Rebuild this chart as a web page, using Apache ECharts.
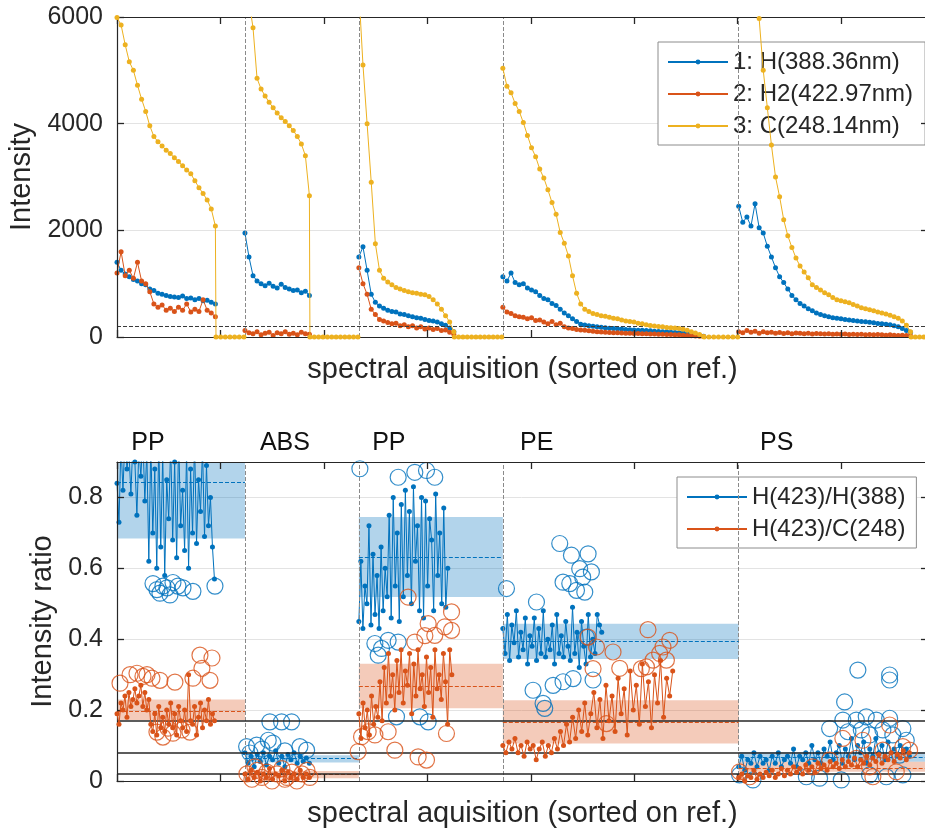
<!DOCTYPE html>
<html><head><meta charset="utf-8">
<script src="https://cdn.jsdelivr.net/npm/echarts@6/dist/echarts.min.js"></script>
<style>html,body{margin:0;padding:0;background:#fff}#c{width:925px;height:832px}</style>
</head><body><div id="c"></div><script>
// ---------- x positions (acquisition index) ----------
const topSpans  = [[0,95.1],[123.7,186.0],[233.8,325.6],[373.0,567.1],[601.0,767.1]];
const zeroSpans = [[95.7,122.7],[186.5,232.9],[326.1,372.0],[567.6,600.0],[767.6,784]];
const separators = [123.7, 233.8, 373, 601];
const noiseFloor = 200;

// ---------- top plot: intensities per segment ----------
const H388 = [
  [1400,1250,1180,1130,1080,1050,1000,980,900,870,820,800,780,760,750,740,770,720,730,700,720,680,690,650,620],
  [1950,1500,1150,1050,1000,960,1010,950,920,990,930,900,870,880,830,860,780],
  [1500,1690,1250,800,650,580,540,500,480,470,430,420,400,380,360,350,330,310,300,280,250,220,170,100],
  [1130,1050,1200,1020,980,1000,920,880,850,780,720,700,630,590,520,450,400,340,290,240,225,210,200,190,185,175,165,160,155,150,140,135,130,125,125,120,115,110,105,100,100,90,85,80,75,65,55,45,30,15],
  [2450,2150,2250,2080,2500,2050,1950,1700,1500,1300,1130,1020,900,780,700,630,580,530,490,450,420,400,380,360,350,340,330,320,310,300,290,285,275,265,255,250,240,230,210,190,160,120,90]
];
const H2423 = [
  [1200,1600,1150,1250,1100,1400,1050,1000,850,620,560,600,500,540,480,560,500,620,470,520,480,700,500,450,380],
  [120,80,60,100,40,70,90,30,80,60,100,50,70,40,90,60,50],
  [1300,1000,800,520,420,330,300,270,250,260,210,230,190,210,170,190,150,170,140,160,120,130,90,50],
  [560,470,440,400,380,370,340,360,310,320,280,250,290,230,260,190,170,160,140,130,125,115,110,100,95,90,85,80,80,75,70,70,65,65,60,60,55,55,50,50,45,45,40,40,35,30,25,20,15,10],
  [100,80,120,90,110,70,100,80,90,70,85,65,80,60,75,70,60,70,55,65,60,55,60,50,55,50,55,45,50,45,50,40,45,40,45,40,35,40,35,30,35,30,25]
];
const C248 = [
  [5990,5850,5480,5160,5000,4720,4460,4230,3960,3760,3660,3580,3500,3440,3360,3290,3210,3130,3060,2930,2800,2690,2570,2400,2080],
  [6800,6300,5800,4850,4650,4520,4400,4300,4200,4110,4040,3960,3870,3760,3620,3400,2650],
  [6500,5100,4000,2900,1750,1250,1100,1030,980,930,900,870,850,830,820,800,790,760,700,620,520,400,280,100],
  [5040,4700,4580,4380,4230,4020,3780,3550,3380,3150,2980,2760,2520,2300,1960,1760,1520,1150,820,620,520,480,440,420,400,390,370,350,340,320,300,290,280,260,250,230,215,205,195,190,180,175,170,160,145,125,100,75,45,10],
  [7000,7000,7000,7000,7000,5970,5000,4300,3600,3000,2630,2200,1900,1680,1480,1330,1220,1110,980,930,880,830,790,740,700,680,660,640,610,580,550,530,510,490,470,450,430,410,380,350,300,220,100]
];
const C248zeros = [
  [0,0,0,0,0,0,0],
  [0,0,0,0,0,0,0,0,0,0,0,0],
  [0,0,0,0,0,0,0,0,0,0,0,0],
  [0,0,0,0,0,0,0,0],
  [0,0,0,0,0]
];

// ---------- bottom plot: ratios per segment ----------
const hhSpans = [[0,94.2],[123.7,186.0],[233.8,319.8],[373,468.6],[601,766]];
const hcSpans = [[0,94.2],[123.7,186.0],[233.8,323.7],[373,537.2],[601,766]];
const ratioHH = [
  [0.84,0.73,0.95,0.82,0.97,0.88,0.93,0.81,0.96,0.90,0.75,0.94,0.86,0.97,0.79,0.93,0.62,0.95,0.70,0.88,0.60,0.96,0.66,0.92,0.58,0.85,0.74,0.95,0.68,0.90,0.63,0.97,0.72,0.82,0.65,0.93,0.60,0.88,0.70,0.96,0.67,0.85,0.76,0.94,0.69,0.89,0.72,0.80,0.66,0.57],
  [0.08,0.05,0.07,0.04,0.075,0.055,0.08,0.045,0.07,0.06,0.085,0.05,0.07,0.04,0.075,0.06,0.08,0.05,0.07,0.055,0.065,0.05],
  [0.45,0.62,0.43,0.55,0.50,0.72,0.44,0.64,0.47,0.58,0.43,0.66,0.48,0.60,0.52,0.75,0.46,0.80,0.55,0.70,0.45,0.78,0.52,0.82,0.58,0.76,0.50,0.83,0.62,0.72,0.48,0.80,0.46,0.79,0.55,0.74,0.68,0.48,0.81,0.58,0.70,0.50,0.77,0.49,0.60],
  [0.43,0.36,0.47,0.34,0.44,0.39,0.48,0.35,0.42,0.37,0.46,0.33,0.41,0.38,0.46,0.34,0.43,0.36,0.48,0.35,0.40,0.37,0.44,0.33,0.47,0.36,0.41,0.35,0.45,0.38,0.34,0.49,0.36,0.42,0.32,0.45,0.38,0.33,0.47,0.35,0.40,0.36,0.47,0.44,0.42],
  [0.04,0.07,0.03,0.06,0.05,0.08,0.04,0.07,0.05,0.06,0.03,0.07,0.05,0.08,0.04,0.06,0.07,0.05,0.09,0.04,0.07,0.06,0.08,0.05,0.10,0.06,0.08,0.05,0.09,0.07,0.11,0.06,0.08,0.10,0.05,0.09,0.07,0.12,0.06,0.10,0.08,0.11,0.05,0.09,0.07,0.12,0.08,0.10,0.06,0.11,0.08,0.09,0.07,0.10,0.08,0.09,0.07]
];
const ratioHC = [
  [0.19,0.16,0.22,0.20,0.24,0.18,0.25,0.21,0.23,0.26,0.22,0.24,0.27,0.21,0.25,0.20,0.23,0.16,0.14,0.19,0.13,0.21,0.15,0.18,0.14,0.20,0.16,0.22,0.15,0.19,0.13,0.21,0.17,0.15,0.20,0.14,0.30,0.17,0.16,0.21,0.13,0.18,0.22,0.15,0.20,0.17,0.23,0.16,0.19,0.17],
  [0.02,0.005,0.03,0.01,0.025,0.0,0.02,0.01,0.035,0.005,0.02,0.015,0.03,0.0,0.025,0.01,0.02,0.005,0.03,0.01,0.02,0.01],
  [0.19,0.12,0.22,0.15,0.20,0.13,0.24,0.16,0.21,0.18,0.28,0.17,0.32,0.22,0.36,0.24,0.30,0.20,0.34,0.25,0.37,0.22,0.31,0.27,0.36,0.19,0.33,0.24,0.37,0.26,0.30,0.21,0.35,0.25,0.32,0.18,0.37,0.26,0.30,0.23,0.36,0.28,0.16,0.37,0.30],
  [0.10,0.08,0.11,0.09,0.12,0.08,0.10,0.07,0.11,0.09,0.10,0.06,0.09,0.11,0.07,0.10,0.08,0.12,0.09,0.14,0.10,0.16,0.11,0.18,0.12,0.20,0.14,0.22,0.13,0.19,0.25,0.15,0.23,0.12,0.27,0.17,0.24,0.14,0.29,0.19,0.26,0.13,0.31,0.20,0.27,0.16,0.33,0.21,0.28,0.15,0.30,0.22,0.34,0.18,0.29,0.24,0.31],
  [0.01,0.02,0.0,0.015,0.01,0.03,0.005,0.02,0.01,0.025,0.015,0.03,0.01,0.02,0.035,0.015,0.03,0.02,0.04,0.025,0.035,0.02,0.045,0.03,0.04,0.025,0.05,0.035,0.045,0.03,0.055,0.04,0.05,0.035,0.06,0.04,0.055,0.045,0.065,0.04,0.06,0.05,0.07,0.045,0.065,0.055,0.075,0.05,0.07,0.06,0.08,0.055,0.075,0.065,0.085,0.06,0.08]
];
// outliers [acquisition, ratio]
const outHH = [
  [34.8,0.557],[38.6,0.54],[41.5,0.53],[44.4,0.55],[48.3,0.545],[51.2,0.525],[54.1,0.56],[58.9,0.55],[63.8,0.545],[73.4,0.535],[94.7,0.55],
  [125.3,0.097],[135,0.101],[146.2,0.115],[150.7,0.107],[147.8,0.167],[159.1,0.167],[168.8,0.167],[176.8,0.097],[183.3,0.087],[128.5,0.079],[140.1,0.09],[162.3,0.085],
  [234.8,0.881],[271.8,0.857],[287.9,0.871],[299.2,0.876],[307.2,0.857],[249.3,0.388],[255.7,0.374],[262.1,0.397],[252.5,0.355],[271.8,0.392],[270.2,0.181],[292.8,0.181],[300.8,0.167],
  [428,0.67],[439.3,0.637],[455.4,0.641],[447.3,0.599],[458.6,0.59],[431.2,0.561],[437.7,0.557],[444.2,0.538],[452.2,0.533],[450.2,0.575],[376.5,0.543],[405.5,0.505],[402.2,0.256],[411.9,0.219],[413.5,0.205],[421.6,0.27],[431.2,0.28],[440.9,0.289],[460.2,0.285],[453.8,0.406],
  [716.2,0.313],[746.9,0.299],[746.9,0.285],[703.4,0.223],[688.9,0.148],[701.7,0.172],[714.7,0.172],[724.3,0.181],[734,0.172],[746.9,0.177],[759.7,0.148],[706.6,0.139],[719.5,0.144],[727.5,0.13],[740.4,0.144],[750,0.13],[763,0.115],[601.9,0.017],[614.8,0.003],[666.4,0.012],[679.2,0.008],[700.2,0.003],[727.5,0.017],[743.7,0.012],[759.7,0.017],[756.5,0.073]
];
const outHC = [
  [2.9,0.276],[12.6,0.30],[19.3,0.304],[25.1,0.295],[29,0.30],[33.8,0.29],[41.5,0.284],[56,0.279],[73.4,0.29],[82.1,0.318],[80.2,0.355],[91.8,0.347],[89.9,0.284],[38.6,0.138],[44.4,0.124],[54.1,0.135],[62.8,0.144],[70.5,0.138],[49.3,0.149],
  [125.6,0.02],[130.4,0.005],[135.3,0.03],[140.1,0.01],[144.9,0.025],[149.8,0.0],[154.6,0.02],[159.4,0.035],[164.3,0.01],[169.1,0.025],[173.9,0.0],[178.7,0.02],[183.6,0.03],[186.5,0.01],[133.3,0.04],[162.3,0.005],
  [281.4,0.519],[323.4,0.477],[316.9,0.435],[300.8,0.444],[307.2,0.411],[323.4,0.425],[287.9,0.392],[297.6,0.41],[236.4,0.125],[242.8,0.139],[249.3,0.13],[268.6,0.087],[291.1,0.068],[299.2,0.059],[318.5,0.134],[233.1,0.083],[262.1,0.139],
  [513.3,0.427],[534.3,0.397],[527.8,0.378],[524.6,0.36],[518.2,0.341],[511.8,0.322],[531.1,0.341],[463.5,0.378],[479.5,0.364],[455.4,0.406],[486,0.318],[460.2,0.317],[473.1,0.162],[506.9,0.317],
  [701.7,0.12],[721.1,0.115],[746.9,0.158],[740.4,0.087],[759.7,0.097],[766.2,0.087],[688.9,0.059],[714.7,0.064],[727.5,0.04],[601.9,0.026],[611.6,0.012],[730.7,0.012],[753.3,0.026],[672.5,0.04]
];
const bandX    = [[0,123.7],[123.7,233.8],[233.8,373],[373,601],[601,784]];
const hhBandLo = [0.684,0.052,0.519,0.344,0.054];
const hhBandHi = [0.9,0.073,0.745,0.444,0.082];
const hhMean   = [0.842,0.064,0.632,0.395,0.068];
const hcBandLo = [0.172,0.008,0.205,0.106,0.026];
const hcBandHi = [0.23,0.028,0.331,0.228,0.054];
const hcMean   = [0.198,0.018,0.268,0.167,0.037];
const refLines = [0.172,0.081,0.019];
const segLabels = ['PP','ABS','PP','PE','PS'];
const segLabelX = [30,162.3,262.8,405.8,637.7];

// ---------- build ----------
const FONT = '"Liberation Sans", Arial, Helvetica, sans-serif';
const AX = '#262626';
const BLUE = '#0072BD', RED = '#D95319', YEL = '#EDB120';
function spread(span, vals){
  const n = vals.length;
  return vals.map((v,i)=>[span[0] + (span[1]-span[0])*i/(n-1), v]);
}
function joinSegs(spans, segs, zeros){
  const out = [];
  segs.forEach((vals,i)=>{
    if (i>0) out.push([spans[i][0]-0.5, null]);
    out.push(...spread(spans[i], vals));
    if (zeros) out.push(...spread(zeroSpans[i], zeros[i]));
  });
  return out;
}
const chart = echarts.init(document.getElementById('c'), null, {renderer:'canvas'});
const tick = {show:true, inside:true, length:7, lineStyle:{color:AX, width:1.3}};
function xAx(grid, pos, name){
  const a = {gridIndex:grid, type:'value', position:pos, min:0, max:784, interval:100, z:5,
    axisLine:{show:true, onZero:false, lineStyle:{color:AX, width:1.2}},
    axisTick:tick,
    axisLabel:{show:true, formatter:()=>'', showMinLabel:true, showMaxLabel:true},
    splitLine:{show:false}};
  if (name){ Object.assign(a,{name:name, nameLocation:'middle', nameGap:18,
    nameTextStyle:{fontSize:29, color:AX, fontFamily:FONT}}); }
  return a;
}
function yAx(grid, pos, min, max, interval, name, gap, showMax){
  const left = pos==='left';
  const a = {gridIndex:grid, type:'value', position:pos, min:min, max:max, interval:interval, z:5,
    axisLine:{show:true, onZero:false, lineStyle:{color:AX, width:1.2}},
    axisTick:tick,
    axisLabel:{show:true, fontSize:25, color:AX, fontFamily:FONT, margin:14,
      showMaxLabel:!!showMax, formatter: left ? (v)=>String(+(+v).toFixed(4)) : ()=>''},
    splitLine:{show:false}};
  if (name){ Object.assign(a,{name:name, nameLocation:'middle', nameGap:gap, nameRotate:90,
    nameTextStyle:{fontSize:29, color:AX, fontFamily:FONT}}); }
  return a;
}
function yGridAx(grid, min, max, interval){
  return {gridIndex:grid, type:'value', position:'left', min:min, max:max, interval:interval, z:0,
    axisLine:{show:false}, axisTick:{show:false}, axisLabel:{show:false},
    splitLine:{show:true, lineStyle:{color:'#e3e3e3', width:1}}};
}
const sepLine = {type:'dashed', color:'#8a8a8a', width:1};
const option = {
  animation:false,
  grid:[{left:117, right:-3, top:17, height:320, containLabel:false, outerBoundsMode:'none'},
        {left:117, right:-3, top:462, height:319, containLabel:false, outerBoundsMode:'none'}],
  xAxis:[xAx(0,'bottom','spectral aquisition (sorted on ref.)'), xAx(0,'top'),
         xAx(1,'bottom','spectral aquisition (sorted on ref.)'), xAx(1,'top')],
  yAxis:[yAx(0,'left',0,6000,2000,'Intensity',81,true), yAx(0,'right',0,6000,2000),
         yAx(1,'left',0,0.9,0.2,'Intensity ratio',57,false), yAx(1,'right',0,0.9,0.2),
         yGridAx(0,0,6000,2000), yGridAx(1,0,0.9,0.2)],
  legend:[
    {data:['1: H(388.36nm)','2: H2(422.97nm)','3: C(248.14nm)'], orient:'vertical', left:658, top:42,
     itemWidth:60, itemHeight:6, itemGap:8, padding:[8,12,7,9], backgroundColor:'#fff',
     borderColor:'#8c8c8c', borderWidth:1, borderRadius:0, selectedMode:false,
     textStyle:{fontSize:24, color:AX, fontFamily:FONT}},
    {data:['H(423)/H(388)','H(423)/C(248)'], orient:'vertical', left:677, top:477,
     itemWidth:60, itemHeight:6, itemGap:8, padding:[8,11,7,9], backgroundColor:'#fff',
     borderColor:'#8c8c8c', borderWidth:1, borderRadius:0, selectedMode:false,
     textStyle:{fontSize:24, color:AX, fontFamily:FONT}}
  ],
  series:[
    {type:'line', name:'top-guides', xAxisIndex:0, yAxisIndex:0, data:[], z:1, silent:true,
     markLine:{silent:true, symbol:['none','none'], label:{show:false},
       data:[...separators.map(s=>({xAxis:s, lineStyle:sepLine})),
             {yAxis:noiseFloor, lineStyle:{type:'dashed', color:'#3a3a3a', width:1}}]}},
    {type:'line', name:'1: H(388.36nm)', xAxisIndex:0, yAxisIndex:0, z:3,
     data:joinSegs(topSpans, H388), symbol:'circle', symbolSize:5, connectNulls:false,
     itemStyle:{color:BLUE}, lineStyle:{color:BLUE, width:1}},
    {type:'line', name:'2: H2(422.97nm)', xAxisIndex:0, yAxisIndex:0, z:4,
     data:joinSegs(topSpans, H2423), symbol:'circle', symbolSize:5, connectNulls:false,
     itemStyle:{color:RED}, lineStyle:{color:RED, width:1}},
    {type:'line', name:'3: C(248.14nm)', xAxisIndex:0, yAxisIndex:0, z:5,
     data:joinSegs(topSpans, C248, C248zeros), symbol:'circle', symbolSize:5, connectNulls:false,
     itemStyle:{color:YEL}, lineStyle:{color:YEL, width:1}},
    {type:'line', name:'bands', xAxisIndex:2, yAxisIndex:2, data:[], z:1, silent:true,
     markArea:{silent:true, label:{show:false},
       data:[...bandX.map((b,i)=>[{xAxis:b[0], yAxis:hhBandLo[i], itemStyle:{color:'rgba(0,114,189,0.3)'}},{xAxis:b[1], yAxis:hhBandHi[i]}]),
             ...bandX.map((b,i)=>[{xAxis:b[0], yAxis:hcBandLo[i], itemStyle:{color:'rgba(217,83,25,0.3)'}},{xAxis:b[1], yAxis:hcBandHi[i]}])]},
     markLine:{silent:true, symbol:['none','none'], label:{show:false},
       data:[...separators.map(s=>({xAxis:s, lineStyle:sepLine})),
             ...bandX.map((b,i)=>[{coord:[b[0],hhMean[i]], lineStyle:{type:'dashed', color:BLUE, width:1}},{coord:[b[1],hhMean[i]]}]),
             ...bandX.map((b,i)=>[{coord:[b[0],hcMean[i]], lineStyle:{type:'dashed', color:RED, width:1}},{coord:[b[1],hcMean[i]]}])]}},
    {type:'line', name:'H(423)/H(388)', xAxisIndex:2, yAxisIndex:2, z:3,
     data:joinSegs(hhSpans, ratioHH), symbol:'circle', symbolSize:5, connectNulls:false,
     itemStyle:{color:BLUE}, lineStyle:{color:BLUE, width:1}},
    {type:'scatter', name:'outHH', xAxisIndex:2, yAxisIndex:2, z:4, data:outHH, symbol:'circle', symbolSize:16,
     itemStyle:{color:'rgba(0,0,0,0)', borderColor:BLUE, borderWidth:1.2}},
    {type:'line', name:'H(423)/C(248)', xAxisIndex:2, yAxisIndex:2, z:5,
     data:joinSegs(hcSpans, ratioHC), symbol:'circle', symbolSize:5, connectNulls:false,
     itemStyle:{color:RED}, lineStyle:{color:RED, width:1}},
    {type:'scatter', name:'outHC', xAxisIndex:2, yAxisIndex:2, z:6, data:outHC, symbol:'circle', symbolSize:16,
     itemStyle:{color:'rgba(0,0,0,0)', borderColor:RED, borderWidth:1.2}},
    {type:'line', name:'refs', xAxisIndex:2, yAxisIndex:2, data:[], z:8, silent:true,
     markLine:{silent:true, symbol:['none','none'], label:{show:false},
       data:refLines.map(v=>({yAxis:v, lineStyle:{type:'solid', color:AX, width:1.5}}))}}
  ]
};
chart.setOption(option);
const gridTop = chart.convertToPixel({yAxisIndex:2}, 0.9);
chart.setOption({graphic: segLabels.map((t,i)=>({
  type:'text', x: chart.convertToPixel({xAxisIndex:2}, segLabelX[i]), y: gridTop - 19,
  style:{text:t, fontSize:25, fill:'#111', fontFamily:FONT, align:'center', verticalAlign:'middle'}
}))});
</script></body></html>
